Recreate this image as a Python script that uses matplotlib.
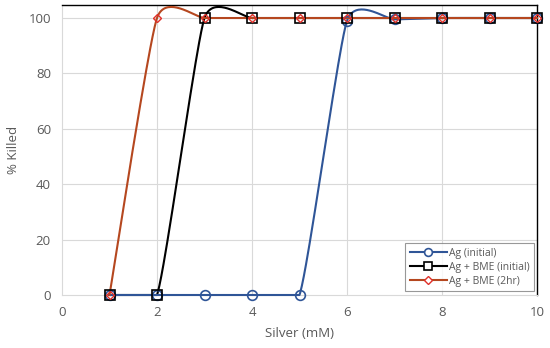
import numpy as np
import matplotlib
matplotlib.use("Agg")
import matplotlib.pyplot as plt

silver = [1, 2, 3, 4, 5, 6, 7, 8, 9, 10]
ag_initial = [0, 0, 0, 0, 0, 99, 99.5, 100, 100, 100]
bme_initial = [0, 0, 100, 100, 100, 100, 100, 100, 100, 100]
bme_2hr = [0, 100, 100, 100, 100, 100, 100, 100, 100, 100]

labels = ["Ag (initial)", "Ag + BME (initial)", "Ag + BME (2hr)"]

plt.rcParams['font.family'] = ['Open Sans', 'DejaVu Sans']

fig = plt.figure(figsize=(5.5, 3.48), dpi=100)
ax = fig.add_axes([62/550, 1 - 295/348, 475/550, 290/348])
XMAX, YMAX = 10, 104.7
ax.set_xlim(0, XMAX)
ax.set_ylim(0, YMAX)

# pixel scale for smoothing in display space
sx = 475 / XMAX
sy = 290 / YMAX


def smooth(xs, ys, k=0.09, n=40):
    P = np.column_stack([np.array(xs, float) * sx, np.array(ys, float) * sy])
    m = len(P)
    out = []
    for i in range(m - 1):
        p0 = P[max(i - 1, 0)]
        p1 = P[i]
        p2 = P[i + 1]
        p3 = P[min(i + 2, m - 1)]
        c1 = p1 + (p2 - p0) * k
        c2 = p2 - (p3 - p1) * k
        t = np.linspace(0, 1, n)[:, None]
        seg = ((1 - t) ** 3) * p1 + 3 * ((1 - t) ** 2) * t * c1 + 3 * (1 - t) * t ** 2 * c2 + t ** 3 * p2
        out.append(seg if i == 0 else seg[1:])
    pts = np.vstack(out)
    # the plot area clips the curve at the axis floor
    return pts[:, 0] / sx, np.maximum(pts[:, 1] / sy, 0)


for v in [2, 4, 6, 8]:
    ax.axvline(v, color="#d9d9d9", lw=0.8, zorder=0)
for v in [20, 40, 60, 80, 100]:
    ax.axhline(v, color="#d9d9d9", lw=0.8, zorder=0)

series = [
    (ag_initial, "#2F5597", "o", 7, 1.2, 3.1, 4.0),
    (bme_initial, "#000000", "s", 7, 1.2, 3.0, 4.1),
    (bme_2hr, "#B5471F", "D", 4.5, 1.0, 3.2, 4.2),
]
handles = []
for (ys, col, mk, ms, mew, zl, zm), lab in zip(series, labels):
    xx, yy = smooth(silver, ys)
    ax.plot(xx, yy, color=col, lw=1.5, clip_on=False, zorder=zl)
    mcol = "#E0302A" if mk == "D" else col
    ax.plot(silver, ys, ls="none", marker=mk, ms=ms, mfc="none", mec=mcol, mew=mew,
            clip_on=False, zorder=zm)
    h, = ax.plot([], [], color=col, lw=1.5, marker=mk, ms=ms * 0.8, mfc="white", mec=mcol, mew=mew)
    handles.append(h)

ax.set_xticks([0, 2, 4, 6, 8, 10])
ax.set_yticks([0, 20, 40, 60, 80, 100])
ax.tick_params(length=0, labelsize=9.5, labelcolor="#595959", pad=8)
for s in ["left", "bottom"]:
    ax.spines[s].set_color("#d9d9d9")
for s in ["top", "right"]:
    ax.spines[s].set_color("#000000")
    ax.spines[s].set_linewidth(1.0)

ax.set_xlabel("Silver (mM)", fontsize=9.5, color="#595959", labelpad=6)
ax.set_ylabel("% Killed", fontsize=9.5, color="#595959", labelpad=6)

leg = ax.legend(handles, labels, loc="lower right", bbox_to_anchor=(0.999, 0.005),
                fontsize=7.5, frameon=True, fancybox=False, edgecolor="#7f7f7f",
                handlelength=3.6, handletextpad=0.2, borderpad=0.45, labelspacing=0.3,
                borderaxespad=0.2)
for t in leg.get_texts():
    t.set_color("#595959")
leg.get_frame().set_linewidth(0.8)
leg.set_zorder(10)

fig.savefig("out.png", dpi=100)
